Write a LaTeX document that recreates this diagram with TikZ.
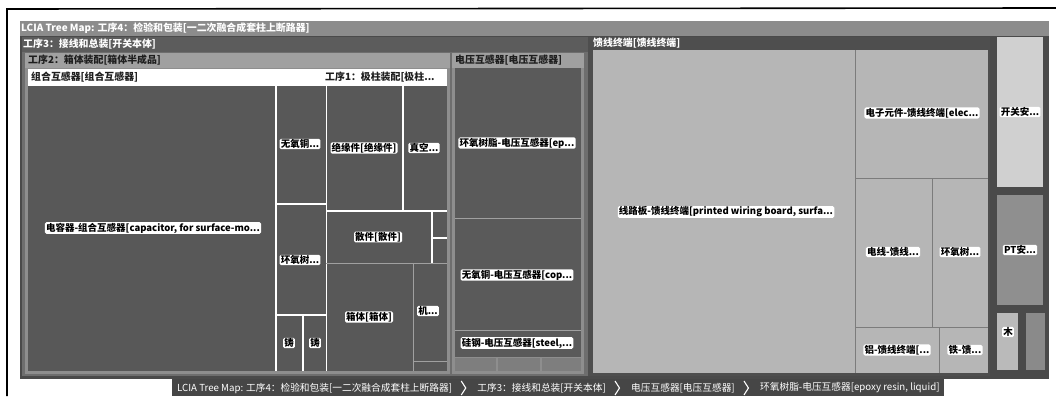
\documentclass[tikz,border=0pt]{standalone}
\usepackage{fontspec}
\setmainfont{Noto Sans CJK SC}
\usetikzlibrary{calc}
\definecolor{rootbar}{HTML}{8C8C8C}
\definecolor{rootbg}{HTML}{4A4A4A}
\definecolor{pthree}{HTML}{5C5C5C}
\definecolor{pthreein}{HTML}{6E6E6E}
\definecolor{ptwo}{HTML}{8E8E8E}
\definecolor{ptwobar}{HTML}{A0A0A0}
\definecolor{darkcell}{HTML}{585858}
\definecolor{vtcell}{HTML}{5A5A5A}
\definecolor{vtsmall}{HTML}{7E7E7E}
\definecolor{feedbg}{HTML}{4E4E4E}
\definecolor{lightcell}{HTML}{B6B6B6}
\definecolor{lightline}{HTML}{7C7C7C}
\definecolor{swcell}{HTML}{D0D0D0}
\definecolor{ptcell}{HTML}{8F8F8F}
\definecolor{woodcell}{HTML}{BABABA}
\definecolor{othercell}{HTML}{8A8A8A}
\definecolor{crumb}{HTML}{464646}
\definecolor{darktext}{HTML}{1E1E1E}
\newcommand\tmHead{\bfseries\fontsize{9.9}{11}\selectfont}
\newcommand\tmLbl{\bfseries\fontsize{9.5}{10}\selectfont}
\newcommand\tmCrumb{\fontsize{9.7}{11}\selectfont}
\begin{document}
\begin{tikzpicture}[x=1pt,y=-1pt,
  hdw/.style={anchor=west,inner sep=0pt,text=white,font=\tmHead},
  hdd/.style={anchor=west,inner sep=0pt,text=darktext,font=\tmHead},
  lbl/.style={fill=white,text=black,font=\tmLbl,inner xsep=1.2pt,inner ysep=0.6pt,rounded corners=1.5pt},
  wline/.style={draw=white,line width=1.6pt},
  tline/.style={draw=lightline,line width=0.8pt},
  gline/.style={draw=#1,line width=0.7pt},
  bc/.style={anchor=west,inner sep=0pt,text=white,font=\tmCrumb},
  chev/.style={draw=white,line width=1.1pt,line join=miter}]
\useasboundingbox (0,0) rectangle (1056,396);
\fill[white] (0,0) rectangle (1056,396);
% window frame
\draw[line width=1.6pt] (7,396) -- (7,9) -- (1056,8);
% root
\fill[rootbar] (20,21) rectangle (1049,36);
\fill[rootbg] (20,36) rectangle (1049,379);
\node[hdw] (roothd) at (21,28.5) {LCIA Tree Map: 工序4：检验和包装[一二次融合成套柱上断路器]};
% process 3
\fill[pthree] (22,37) rectangle (588,376);
\fill[pthreein] (22,52) rectangle (588,376);
\node[hdw] (p3hd) at (23,44.5) {工序3：接线和总装[开关本体]};
% process 2
\fill[ptwo] (25,53) rectangle (450,374);
\fill[ptwobar] (25,53) rectangle (450,68);
\node[hdd] (p2hd) at (28,60.5) {工序2：箱体装配[箱体半成品]};
\fill[white] (28,69) rectangle (447,86);
\node[hdd] (cthd) at (31,77.5) {组合互感器[组合互感器]};
\node[hdd] (p1hd) at (325,77.5) {工序1：极柱装配[极柱...};
\fill[darkcell] (28,86) rectangle (447,371);
% white dividers
\path[wline] (276,86) -- (276,371);
\path[wline] (276,204) -- (326,204);
\path[wline] (276,315) -- (326,315);
\path[wline] (303,315) -- (303,371);
\path[draw=white,line width=0.9pt] (326,86) -- (326,371);
\path[wline] (403,86) -- (403,210);
\path[wline] (326,211) -- (447,211);
\path[wline] (432,211) -- (432,263);
\path[wline] (432,238) -- (447,238);
\path[gline=ptwobar] (326,263) -- (447,263);
\path[gline=ptwobar] (413,263) -- (413,371);
\path[gline=ptwobar] (413,361) -- (447,361);
\node[lbl] (cap) at (153,228) {电容器-组合互感器[capacitor, for surface-mo...};
\node[lbl] (cu1) at (300,144) {无氧铜...};
\node[lbl] (ep1) at (300,260) {环氧树...};
\node[lbl] (zz1) at (289,343) {铸};
\node[lbl] (zz2) at (315,343) {铸};
\node[lbl] (ins) at (364,148) {绝缘件[绝缘件]};
\node[lbl] (vac) at (424,148) {真空...};
\node[lbl] (loose) at (378,237) {散件[散件]};
\node[lbl] (box) at (369,317) {箱体[箱体]};
\node[lbl] (mech) at (428,311) {机...};
% voltage transformer
\fill[ptwo] (452,53) rectangle (584,374);
\fill[ptwobar] (452,53) rectangle (584,68);
\node[hdd] (vthd) at (455,60.5) {电压互感器[电压互感器]};
\fill[vtcell] (455,68) rectangle (581,357);
\path[gline=ptwobar] (455,218) -- (581,218);
\path[gline=ptwobar] (455,330) -- (581,330);
\fill[vtsmall] (455,358) rectangle (496,371);
\fill[vtsmall] (498,358) rectangle (540,371);
\fill[vtsmall] (542,358) rectangle (581,371);
\node[lbl] (vt1) at (517,143) {环氧树脂-电压互感器[ep...};
\node[lbl] (vt2) at (517,275) {无氧铜-电压互感器[cop...};
\node[lbl] (vt3) at (517,343) {硅钢-电压互感器[steel,...};
% feeder terminal
\fill[feedbg] (588,37) rectangle (990,376);
\node[hdw] (fdhd) at (593,43.5) {馈线终端[馈线终端]};
\fill[lightcell] (593,50) rectangle (988,373);
\path[tline] (855,50) -- (855,373);
\path[tline] (855,178) -- (988,178);
\path[tline] (932,178) -- (932,327);
\path[tline] (855,327) -- (988,327);
\path[tline] (939,327) -- (939,373);
\node[lbl] (pwb) at (726,212) {线路板-馈线终端[printed wiring board, surfa...};
\node[lbl] (elec) at (922,113) {电子元件-馈线终端[elec...};
\node[lbl] (wire) at (893,252) {电线-馈线...};
\node[lbl] (ep2) at (960,252) {环氧树...};
\node[lbl] (alu) at (897,350) {铝-馈线终端[...};
\node[lbl] (iron) at (965,350) {铁-馈...};
% right column
\fill[rootbg] (990,37) rectangle (1048,377);
\fill[swcell] (997,37) rectangle (1043,187);
\fill[ptcell] (997,195) rectangle (1043,305);
\fill[woodcell] (997,313) rectangle (1018,370);
\fill[othercell] (1026,313) rectangle (1045,370);
\node[lbl] (sw) at (1020,112) {开关安...};
\node[lbl] (pt) at (1020,250) {PT安...};
\node[lbl] (wood) at (1008,332) {木};
% breadcrumb bar
\fill[crumb] (172,379) rectangle (944,396);
\node[bc] (bc1) at (177,388) {LCIA Tree Map: 工序4：检验和包装[一二次融合成套柱上断路器]};
\draw[chev] ($(bc1.east)+(9,-7)$) -- ++(4.5,7) -- ++(-4.5,7);
\node[bc] (bc2) at ($(bc1.east)+(25,0)$) {工序3：接线和总装[开关本体]};
\draw[chev] ($(bc2.east)+(9,-7)$) -- ++(4.5,7) -- ++(-4.5,7);
\node[bc] (bc3) at ($(bc2.east)+(25,0)$) {电压互感器[电压互感器]};
\draw[chev] ($(bc3.east)+(9,-7)$) -- ++(4.5,7) -- ++(-4.5,7);
\node[bc] (bc4) at ($(bc3.east)+(25,0)$) {环氧树脂-电压互感器[epoxy resin, liquid]};
\end{tikzpicture}
\end{document}
